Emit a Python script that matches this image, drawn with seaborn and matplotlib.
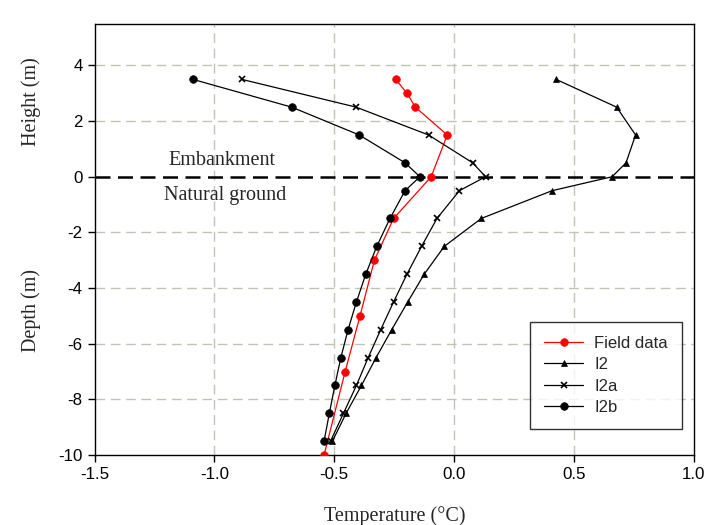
import matplotlib
matplotlib.use("Agg")
import matplotlib.pyplot as plt
import seaborn as sns
import pandas as pd

# Data
field_depth = [3.5, 3.0, 2.5, 1.5, 0.0, -1.5, -3.0, -5.0, -7.0, -10.0]
field_temp = [-0.243, -0.196, -0.161, -0.028, -0.095, -0.252, -0.332, -0.392, -0.454, -0.542]

model_depth = [3.5, 2.5, 1.5, 0.5, 0.0, -0.5, -1.5, -2.5, -3.5, -4.5, -5.5, -6.5, -7.5, -8.5, -9.5]
i2_temp = [0.426, 0.679, 0.758, 0.718, 0.660, 0.410, 0.114, -0.040, -0.124, -0.193, -0.260, -0.325, -0.386, -0.450, -0.507]
i2a_temp = [-0.886, -0.408, -0.106, 0.078, 0.132, 0.023, -0.071, -0.135, -0.196, -0.252, -0.306, -0.358, -0.407, -0.461, -0.515]
i2b_temp = [-1.090, -0.677, -0.395, -0.204, -0.142, -0.204, -0.267, -0.322, -0.368, -0.407, -0.442, -0.472, -0.497, -0.520, -0.542]

series_names = ["Field data", "I2", "I2a", "I2b"]
x_ticks = [-1.5, -1.0, -0.5, 0.0, 0.5, 1.0]
y_ticks = [-10, -8, -6, -4, -2, 0, 2, 4]

sns.set_style("white")
plt.rcParams['font.family'] = ['Liberation Sans', 'DejaVu Sans']

fig = plt.figure(figsize=(7.07, 5.25), dpi=100)
ax = fig.add_axes([0.1337, 0.1333, 0.8473, 0.8216])

styles = [
    (field_temp, field_depth, "red", "o", 5.5),
    (i2_temp, model_depth, "black", "^", 5.0),
    (i2a_temp, model_depth, "black", "x", 5.0),
    (i2b_temp, model_depth, "black", "o", 5.5),
]
for name, (xs, ys, c, m, ms) in zip(series_names, styles):
    df = pd.DataFrame({"t": xs, "d": ys})
    sns.lineplot(data=df, x="t", y="d", sort=False, estimator=None, ax=ax,
                 color=c, marker=m, markersize=ms, linewidth=0.9,
                 markeredgecolor=c, markeredgewidth=1.2 if m == "x" else 0.5,
                 label=name, zorder=3)

ax.set_xlim(-1.5, 1.0)
ax.set_ylim(-10, 5.5)
ax.set_xticks(x_ticks)
ax.set_xticklabels([f"{v:.1f}" for v in x_ticks])
ax.set_yticks(y_ticks)
ax.set_yticklabels([str(v) for v in y_ticks])

grid_color = "#c3c3b5"
for v in [-1.0, -0.5, 0.0, 0.5]:
    ax.axvline(v, color=grid_color, linestyle=(0, (7, 4)), linewidth=1.0, zorder=1)
for v in [-8, -6, -4, -2, 2, 4]:
    ax.axhline(v, color=grid_color, linestyle=(0, (7, 4)), linewidth=1.0, zorder=1)
ax.axhline(0, color="black", linestyle=(0, (6, 3)), linewidth=1.8, zorder=2)

for s in ax.spines.values():
    s.set_color("black")
    s.set_linewidth(1.0)
ax.tick_params(axis="both", direction="out", length=5, width=1, colors="black",
               labelsize=12.2, bottom=True, left=True, top=False, right=False)

ax.set_xlabel("")
ax.set_ylabel("")
serif = ['Liberation Serif', 'DejaVu Serif']
fig.text(395 / 707, 1 - 516 / 525, "Temperature (\u00b0C)", family=serif, fontsize=14.5,
         ha="center", va="center")
fig.text(31 / 707, 1 - 102 / 525, "Height (m)", family=serif, fontsize=14.5,
         ha="center", va="center", rotation=90)
fig.text(31 / 707, 1 - 310 / 525, "Depth (m)", family=serif, fontsize=14.5,
         ha="center", va="center", rotation=90)
ax.text(-0.97, 0.58, "Embankment", family=serif, fontsize=14.5, ha="center", va="center")
ax.text(-0.955, -0.68, "Natural ground", family=serif, fontsize=14.5, ha="center", va="center")

leg = ax.legend(loc="lower right", bbox_to_anchor=(0.981, 0.06), frameon=True,
                fancybox=False, edgecolor="black", fontsize=12, handlelength=2.3,
                handletextpad=0.7, borderpad=0.85, labelspacing=0.38, borderaxespad=0)
leg.get_frame().set_linewidth(1.0)

fig.savefig("out.png", dpi=100, facecolor="white")
